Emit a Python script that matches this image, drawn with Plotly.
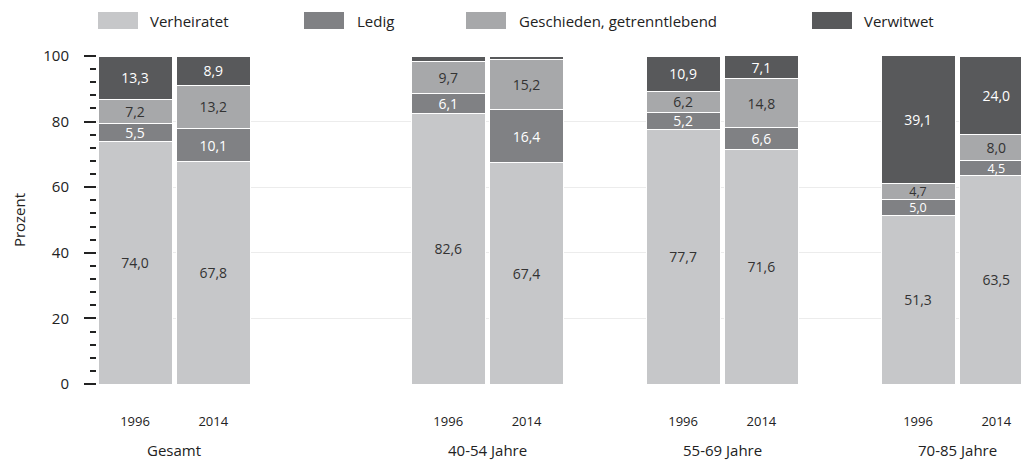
import plotly.graph_objects as go

# ---- data ----
groups = ["Gesamt", "40-54 Jahre", "55-69 Jahre", "70-85 Jahre"]
years = ["1996", "2014"]
# slot positions of each bar on a numeric axis (empty slots create group gaps)
slots = [0, 1, 4, 5, 7, 8, 10, 11]
group_centers = [0.5, 4.5, 7.5, 10.5]
bar_years = ["1996", "2014", "1996", "2014", "1996", "2014", "1996", "2014"]

verheiratet = [74.0, 67.8, 82.6, 67.4, 77.7, 71.6, 51.3, 63.5]
ledig = [5.5, 10.1, 6.1, 16.4, 5.2, 6.6, 5.0, 4.5]
geschieden = [7.2, 13.2, 9.7, 15.2, 6.2, 14.8, 4.7, 8.0]
verwitwet = [13.3, 8.9, 1.6, 1.0, 10.9, 7.1, 39.1, 24.0]

series_names = ["Verheiratet", "Ledig", "Geschieden, getrenntlebend", "Verwitwet"]
series_values = [verheiratet, ledig, geschieden, verwitwet]
colors = ["#c6c7c9", "#808184", "#a7a8aa", "#58595b"]
text_colors = ["#333333", "#ffffff", "#333333", "#ffffff"]

FONT = "Open Sans"


def fmt(v):
    if v < 3:
        return ""
    return f"{v:.1f}".replace(".", ",")


fig = go.Figure()
for name, vals, col, tcol in zip(series_names, series_values, colors, text_colors):
    fig.add_trace(go.Bar(
        x=slots, y=vals, name=name,
        marker=dict(color=col, line=dict(color="white", width=1)),
        width=0.945,
        text=[fmt(v) for v in vals],
        textposition="inside", insidetextanchor="middle",
        constraintext="none",
        textfont=dict(family=FONT, size=[12.5 if v <= 5.0 else 14 for v in vals], color=tcol),
        textangle=0,
        showlegend=False,
    ))

# ---- plot geometry (px) ----
W, H = 1021, 463
L, R, T, B = 97, 0, 56, 79
pw = W - L - R
ph = H - T - B


def px_x(px):
    return (px - L) / pw


def px_y(py):
    return 1 + (T - py) / ph


shapes = []
annotations = []
# manual legend
legend_items = [(98, 148), (304, 355), (466, 517), (812, 862)]
for (sx, tx), name, col in zip(legend_items, series_names, colors):
    shapes.append(dict(type="rect", xref="paper", yref="paper",
                       x0=px_x(sx), x1=px_x(sx + 40), y0=px_y(29), y1=px_y(12),
                       fillcolor=col, line=dict(width=0)))
    annotations.append(dict(xref="paper", yref="paper", x=px_x(tx), y=px_y(20.5),
                            text=name, showarrow=False, xanchor="left", yanchor="middle",
                            font=dict(family=FONT, size=15, color="#222")))

for g, c in zip(groups, group_centers):
    annotations.append(dict(xref="x", yref="paper", x=c, y=px_y(450), text=g,
                            showarrow=False, xanchor="center", yanchor="middle",
                            font=dict(family=FONT, size=15, color="#222")))

step = 78.3
x0 = -(135 - L) / step
x1 = x0 + pw / step

fig.update_layout(
    width=W, height=H,
    margin=dict(l=L, r=R, t=T, b=B, pad=0),
    barmode="stack",
    plot_bgcolor="white", paper_bgcolor="white",
    font=dict(family=FONT, size=13, color="#222"),
    shapes=shapes, annotations=annotations,
    xaxis=dict(
        range=[x0, x1], tickmode="array", tickvals=slots, ticktext=bar_years,
        showgrid=False, zeroline=False, showline=False, ticks="",
        tickfont=dict(family=FONT, size=13, color="#222"),
        ticklabelstandoff=28,
    ),
    yaxis=dict(
        range=[0, 100], tickmode="array", tickvals=[0, 20, 40, 60, 80, 100],
        ticks="outside", ticklen=12, tickwidth=2, tickcolor="#222",
        showgrid=True, gridcolor="#ececec", gridwidth=1,
        zeroline=False, showline=False,
        tickfont=dict(family=FONT, size=15, color="#222"),
        ticklabelstandoff=12,
        minor=dict(dtick=4, tick0=0, ticks="outside", ticklen=6, tickwidth=2,
                   tickcolor="#222", showgrid=False),
        title=dict(text="Prozent", font=dict(family=FONT, size=15, color="#222"), standoff=14),
    ),
)

fig.write_html("out.html", config={"displayModeBar": False},
               post_script="document.body.style.margin='0';document.body.style.overflow='hidden';")
